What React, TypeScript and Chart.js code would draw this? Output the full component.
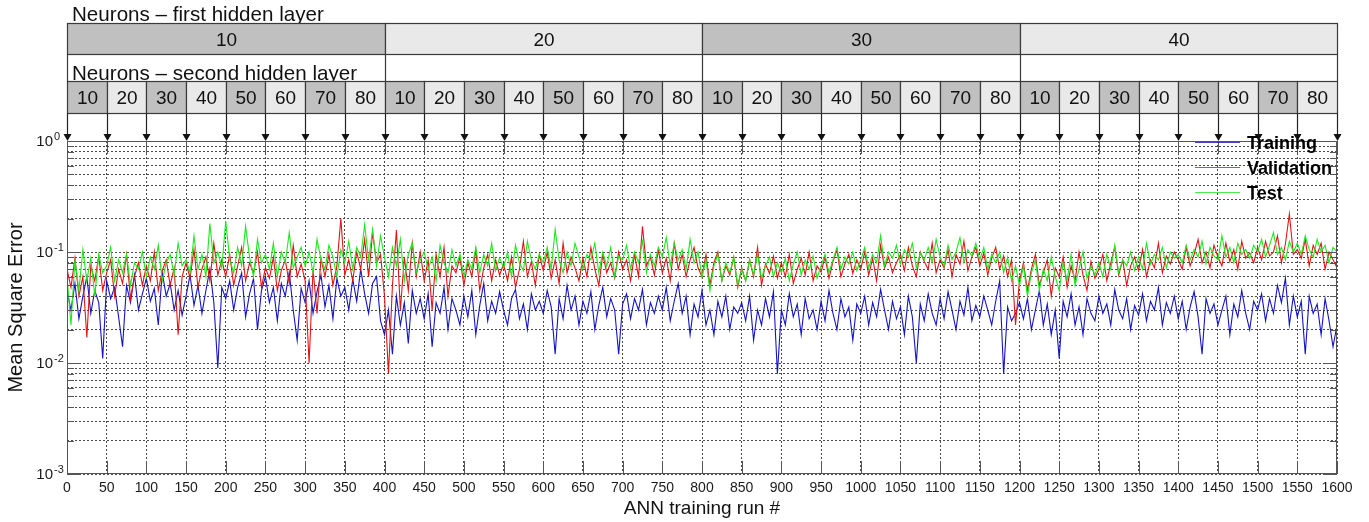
import React, { useEffect, useRef } from 'react';
import { Chart, registerables } from 'chart.js';

Chart.register(...registerables);

// ---------- data (MSE values in thousandths, one value every RUN_STEP runs) ----------
const RUN_STEP = 5;

const trainingMilli = [
  45, 30, 52, 25, 40, 60, 28, 45, 35, 11,
  55, 38, 48, 26, 14, 50, 35, 62, 30, 42,
  58, 36, 47, 22, 65, 40, 52, 30, 45, 27,
  40, 62, 33, 50, 28, 45, 70, 35, 9, 48,
  38, 55, 30, 48, 65, 26, 42, 58, 20, 45,
  60, 35, 48, 24, 52, 40, 66, 30, 16, 47,
  35, 55, 28, 44, 62, 32, 50, 25, 58, 40,
  48, 30, 57, 36, 70, 42, 28, 52, 60, 24,
  18, 30, 12, 40, 22, 35, 15, 45, 28, 38,
  25, 42, 14, 35, 28, 48, 20, 38, 30, 22,
  40, 26, 45, 18, 33, 52, 24, 36, 28, 44,
  30, 22, 38, 46, 25, 34, 20, 42, 30, 36,
  28, 45, 32, 12, 38, 25, 50, 30, 40, 22,
  36, 28, 44, 20, 33, 48, 26, 38, 30, 12,
  34, 42, 25, 38, 30, 46, 22, 35, 28, 40,
  30, 48, 24, 36, 52, 28, 40, 18, 34, 26,
  45, 22, 30, 18, 36, 26, 40, 20, 32, 28,
  35, 24, 40, 16, 30, 22, 38, 26, 44, 8,
  30, 22, 42, 26, 34, 18, 38, 25, 30, 20,
  36, 24, 45, 28, 20, 38, 26, 32, 16, 34,
  28, 40, 22, 35, 26, 46, 30, 20, 36, 25,
  32, 18, 40, 26, 10, 34, 24, 42, 28, 22,
  38, 25, 44, 30, 20, 36, 27, 48, 24, 33,
  26, 40, 30, 22, 36, 55, 8, 32, 24, 28,
  35, 25, 38, 20, 30, 45, 22, 34, 18, 30,
  11, 36, 26, 42, 22, 32, 18, 38, 28, 24,
  40, 28, 34, 22, 46, 30, 25, 38, 20, 33,
  27, 42, 24, 36, 30, 48, 22, 35, 28, 40,
  25, 36, 20, 32, 44, 26, 12, 38, 28, 34,
  22, 30, 40, 18, 34, 26, 45, 28, 20, 36,
  30, 42, 24, 38, 28, 50, 35, 58, 22, 40,
  26, 36, 12, 40, 28, 34, 18, 38, 24, 14,
  22,
];

const validationMilli = [
  70, 48, 88, 40, 60, 17, 75, 55, 92, 45,
  65, 85, 40, 70, 52, 95, 38, 60, 80, 50,
  75, 55, 100, 45, 68, 85, 50, 72, 18, 60,
  80, 58, 105, 48, 70, 90, 55, 120, 62, 85,
  60, 95, 50, 75, 110, 55, 80, 65, 100, 48,
  72, 58, 90, 45, 68, 85, 52, 115, 60, 78,
  55, 10, 70, 28, 88, 60, 95, 50, 75, 200,
  62, 85, 55, 100, 70, 130, 60, 150, 80, 95,
  40, 8, 50, 158, 30, 90, 45, 120, 60, 100,
  55, 85, 30, 95, 60, 110, 40, 75, 65, 90,
  50, 80, 60, 105, 45, 72, 95, 55, 85, 62,
  78, 55, 90, 48, 70, 125, 60, 82, 50, 95,
  68, 100, 58, 85, 52, 120, 65, 90, 72, 55,
  88, 60, 110, 70, 50, 95, 65, 80, 58, 100,
  70, 85, 55, 95, 60, 170, 75, 90, 62, 105,
  65, 88, 55, 120, 70, 95, 60, 85, 110, 72,
  60, 95, 50, 80, 100, 55, 75, 62, 90, 48,
  72, 55, 85, 60, 110, 50, 78, 64, 92, 58,
  80, 60, 95, 52, 70, 88, 62, 100, 55, 75,
  66, 90, 58, 82, 105, 60, 78, 95, 64, 85,
  70, 100, 62, 88, 55, 115, 72, 90, 65, 80,
  95, 68, 110, 75, 60, 100, 82, 70, 120, 65,
  85, 72, 105, 60, 95, 78, 125, 68, 90, 110,
  75, 98, 62, 88, 110, 70, 92, 60, 85, 22,
  55, 80, 45, 70, 95, 50, 65, 85, 40, 72,
  60, 90, 48, 75, 55, 100, 62, 45, 82, 58,
  70, 95, 55, 80, 110, 62, 85, 50, 75, 90,
  68, 105, 60, 85, 72, 120, 65, 92, 78, 100,
  85, 70, 110, 75, 95, 130, 80, 100, 72, 115,
  90, 75, 120, 82, 105, 70, 125, 88, 98, 80,
  110, 85, 125, 92, 100, 140, 80, 118, 220, 95,
  105, 88, 130, 75, 115, 95, 120, 70, 100, 85,
  72,
];

const testMilli = [
  60, 22, 85, 45, 105, 55, 88, 40, 95, 65,
  75, 110, 55, 85, 65, 95, 50, 80, 70, 100,
  60, 90, 70, 115, 55, 80, 95, 62, 120, 75,
  85, 65, 140, 70, 95, 60, 180, 80, 100, 72,
  190, 85, 65, 110, 75, 170, 90, 60, 130, 80,
  95, 70, 120, 60, 100, 80, 150, 72, 90, 110,
  75, 100, 65, 130, 85, 70, 115, 90, 60, 105,
  80, 125, 70, 110, 90, 175, 85, 160, 75, 140,
  90, 60, 110, 75, 130, 55, 95, 120, 65, 85,
  100, 70, 90, 55, 115, 80, 65, 105, 75, 95,
  60, 85, 70, 110, 65, 95, 75, 120, 68, 88,
  72, 100, 60, 115, 80, 68, 125, 85, 70, 95,
  80, 110, 70, 160, 85, 65, 100, 75, 120, 90,
  70, 95, 85, 120, 65, 100, 75, 110, 60, 92,
  85, 115, 70, 100, 80, 125, 65, 95, 75, 110,
  90, 135, 75, 120, 85, 105, 70, 130, 80, 100,
  60, 85, 45, 75, 95, 55, 80, 65, 90, 50,
  70, 55, 85, 62, 95, 58, 75, 90, 60, 80,
  65, 88, 55, 78, 100, 62, 85, 70, 92, 58,
  75, 95, 65, 85, 110, 70, 90, 78, 100, 68,
  85, 110, 72, 95, 80, 140, 75, 100, 88, 115,
  78, 105, 90, 120, 72, 98, 85, 110, 80, 130,
  90, 75, 115, 85, 100, 135, 80, 105, 92, 120,
  85, 110, 70, 95, 80, 100, 65, 90, 55, 75,
  50, 75, 40, 65, 85, 45, 70, 55, 90, 60,
  45, 80, 55, 95, 50, 70, 100, 58, 75, 62,
  80, 60, 95, 70, 115, 65, 85, 75, 100, 68,
  90, 70, 120, 78, 95, 85, 110, 72, 100, 88,
  95, 80, 115, 85, 105, 90, 125, 78, 110, 92,
  85, 140, 90, 110, 80, 120, 95, 105, 88, 115,
  100, 130, 90, 115, 150, 95, 110, 85, 125, 100,
  120, 95, 140, 105, 90, 130, 100, 115, 80, 110,
  100,
];

// header categories
const firstLayerNeurons = [10, 20, 30, 40];
const secondLayerNeurons = [10, 20, 30, 40, 50, 60, 70, 80];
const RUNS_PER_CONFIG = 50;

// axis ticks
const X_MIN = 0;
const X_MAX = 1600;
const X_TICK_STEP = 50;
const Y_DECADES = [-3, -2, -1, 0];

const seriesNames = ['Training', 'Validation', 'Test'];
const seriesColors = ['#1414c4', '#e41414', '#1ee81e'];

const FONT = "'Liberation Sans', Arial, Helvetica, sans-serif";

function toPoints(vals: number[]) {
  return vals.map((v, i) => ({ x: i * RUN_STEP, y: v / 1000 }));
}

function yTickValues(): { v: number; major: boolean }[] {
  const out: { v: number; major: boolean }[] = [];
  for (let k = 0; k < Y_DECADES.length - 1; k++) {
    const base = Math.pow(10, Y_DECADES[k]);
    for (let m = 1; m <= 9; m++) out.push({ v: m * base, major: m === 1 });
  }
  out.push({ v: Math.pow(10, Y_DECADES[Y_DECADES.length - 1]), major: true });
  return out;
}

const overlayPlugin = {
  id: 'overlay',
  afterDraw(chart: any) {
    const { ctx, chartArea: ca, scales } = chart;
    const xs = scales.x;
    const ys = scales.y;
    const px = (v: number) => Math.round(xs.getPixelForValue(v)) + 0.5;
    const py = (v: number) => Math.round(ys.getPixelForValue(v)) + 0.5;
    ctx.save();

    // ----- plot box and tick marks -----
    ctx.strokeStyle = '#555';
    ctx.lineWidth = 1;
    ctx.setLineDash([]);
    ctx.strokeRect(Math.round(ca.left) + 0.5, Math.round(ca.top) + 0.5,
      Math.round(ca.right - ca.left) - 1, Math.round(ca.bottom - ca.top) - 1);
    ctx.beginPath();
    for (let v = X_MIN; v <= X_MAX; v += X_TICK_STEP) {
      const x = px(v);
      ctx.moveTo(x, ca.bottom);
      ctx.lineTo(x, ca.bottom - 13);
      ctx.moveTo(x, ca.top);
      ctx.lineTo(x, ca.top + 13);
    }
    for (const t of yTickValues()) {
      const y = py(t.v);
      const len = t.major ? 13 : 7;
      ctx.moveTo(ca.left, y);
      ctx.lineTo(ca.left + len, y);
      ctx.moveTo(ca.right, y);
      ctx.lineTo(ca.right - len, y);
    }
    ctx.stroke();

    // ----- y tick labels with superscript exponents -----
    ctx.fillStyle = '#1a1a1a';
    for (const e of Y_DECADES) {
      const y = ys.getPixelForValue(Math.pow(10, e));
      ctx.font = `15px ${FONT}`;
      ctx.textAlign = 'right';
      ctx.textBaseline = 'alphabetic';
      ctx.fillText('10', ca.left - 14, y + 5);
      ctx.font = `11px ${FONT}`;
      ctx.textAlign = 'left';
      ctx.fillText(String(e), ca.left - 13, y - 1);
    }

    // ----- header: neuron configuration -----
    const spanFirst = secondLayerNeurons.length * RUNS_PER_CONFIG;
    const dark = '#c0c0c0';
    const light = '#e9e9e9';
    const r1Top = 23.5, r1Bot = 54.5, r2Top = 81.5, r2Bot = 113.5;

    ctx.fillStyle = '#111';
    ctx.font = `20.6px ${FONT}`;
    ctx.textAlign = 'left';
    ctx.textBaseline = 'alphabetic';
    ctx.fillText('Neurons \u2013 first hidden layer', ca.left + 5, 20.5);

    ctx.strokeStyle = '#3a3a3a';
    ctx.lineWidth = 1.2;
    firstLayerNeurons.forEach((n, i) => {
      const x0 = px(i * spanFirst);
      const x1 = px((i + 1) * spanFirst);
      ctx.fillStyle = i % 2 === 0 ? dark : light;
      ctx.fillRect(x0, r1Top, x1 - x0, r1Bot - r1Top);
      ctx.strokeRect(x0, r1Top, x1 - x0, r1Bot - r1Top);
      ctx.fillStyle = '#111';
      ctx.font = `19px ${FONT}`;
      ctx.textAlign = 'center';
      ctx.fillText(String(n), (x0 + x1) / 2, 45.5);
    });
    // connectors between rows
    ctx.beginPath();
    for (let i = 0; i <= firstLayerNeurons.length; i++) {
      const x = px(i * spanFirst);
      ctx.moveTo(x, r1Bot);
      ctx.lineTo(x, r2Top);
    }
    ctx.stroke();

    ctx.fillStyle = '#111';
    ctx.font = `20.6px ${FONT}`;
    ctx.textAlign = 'left';
    ctx.fillText('Neurons \u2013 second hidden layer', ca.left + 5, 79.5);

    let k = 0;
    firstLayerNeurons.forEach((_, i) => {
      secondLayerNeurons.forEach((n, j) => {
        const r0 = i * spanFirst + j * RUNS_PER_CONFIG;
        const x0 = px(r0);
        const x1 = px(r0 + RUNS_PER_CONFIG);
        ctx.fillStyle = k % 2 === 0 ? dark : light;
        ctx.fillRect(x0, r2Top, x1 - x0, r2Bot - r2Top);
        ctx.strokeRect(x0, r2Top, x1 - x0, r2Bot - r2Top);
        ctx.fillStyle = '#111';
        ctx.font = `19px ${FONT}`;
        ctx.textAlign = 'center';
        ctx.fillText(String(n), (x0 + x1) / 2, 104);
        k++;
      });
    });

    // arrows down to the plot
    ctx.strokeStyle = '#222';
    ctx.lineWidth = 1.2;
    ctx.fillStyle = '#111';
    for (let v = X_MIN; v <= X_MAX; v += RUNS_PER_CONFIG) {
      const x = px(v);
      ctx.beginPath();
      ctx.moveTo(x, r2Bot);
      ctx.lineTo(x, ca.top - 6);
      ctx.stroke();
      ctx.beginPath();
      ctx.moveTo(x - 4, ca.top - 7);
      ctx.lineTo(x + 4, ca.top - 7);
      ctx.lineTo(x, ca.top);
      ctx.closePath();
      ctx.fill();
    }

    // ----- legend -----
    ctx.lineWidth = 1.2;
    ctx.font = `bold 18px ${FONT}`;
    ctx.textAlign = 'left';
    seriesNames.forEach((name, i) => {
      const y = Math.round(ca.top + 1 + i * 25) + 0.5;
      ctx.strokeStyle = seriesColors[i];
      ctx.globalAlpha = 0.8;
      ctx.beginPath();
      ctx.moveTo(ca.right - 142, y);
      ctx.lineTo(ca.right - 97, y);
      ctx.stroke();
      ctx.globalAlpha = 1;
      ctx.fillStyle = '#000';
      ctx.fillText(name, ca.right - 90, y + 6.5);
    });

    ctx.restore();
  },
};

export default function App() {
  const canvasRef = useRef<HTMLCanvasElement | null>(null);

  useEffect(() => {
    const canvas = canvasRef.current;
    if (!canvas) return;
    Chart.defaults.font.family = FONT;
    const ticksY = yTickValues();
    const seriesData = [trainingMilli, validationMilli, testMilli];

    const chart = new Chart(canvas, {
      type: 'line',
      data: {
        datasets: seriesNames.map((name, i) => ({
          label: name,
          data: toPoints(seriesData[i]),
          borderColor: seriesColors[i],
          backgroundColor: seriesColors[i],
          borderWidth: 1.1,
          pointRadius: 0,
          tension: 0,
          fill: false,
          order: 3 - i,
        })),
      },
      options: {
        animation: false,
        responsive: false,
        maintainAspectRatio: false,
        events: [],
        layout: { padding: { left: 0, top: 141, right: 32, bottom: 0 } },
        plugins: {
          legend: { display: false },
          tooltip: { enabled: false },
          title: { display: false },
        },
        scales: {
          x: {
            type: 'linear',
            min: X_MIN,
            max: X_MAX,
            afterFit: (s: any) => { s.height = 48; },
            ticks: {
              stepSize: X_TICK_STEP,
              autoSkip: false,
              maxRotation: 0,
              minRotation: 0,
              padding: 6,
              color: '#1a1a1a',
              font: { size: 14, family: FONT },
              callback: (v: any) => String(v),
            },
            grid: { color: '#4a4a4a', lineWidth: 1, drawTicks: false },
            border: { display: false, dash: [2, 2] },
            title: {
              display: true,
              text: 'ANN training run #',
              color: '#111',
              font: { size: 19, family: FONT },
              padding: { top: 0, bottom: 2 },
            },
          },
          y: {
            type: 'logarithmic',
            min: 0.001,
            max: 1,
            afterBuildTicks: (s: any) => {
              s.ticks = ticksY.map((t) => ({ value: t.v, major: t.major }));
            },
            afterFit: (s: any) => { s.width = 67; },
            ticks: { display: false, autoSkip: false },
            grid: { color: '#4a4a4a', lineWidth: 1, drawTicks: false },
            border: { display: false, dash: [2, 2] },
            title: {
              display: true,
              text: 'Mean Square Error',
              color: '#111',
              font: { size: 20, family: FONT },
              padding: { top: 4, bottom: 0 },
            },
          },
        },
      },
      plugins: [overlayPlugin],
    } as any);

    return () => chart.destroy();
  }, []);

  return (
    <div style={{ position: 'fixed', left: 0, top: 0, width: 1369, height: 522, background: '#fff' }}>
      <canvas ref={canvasRef} width={1369} height={522} style={{ display: 'block' }} />
    </div>
  );
}
